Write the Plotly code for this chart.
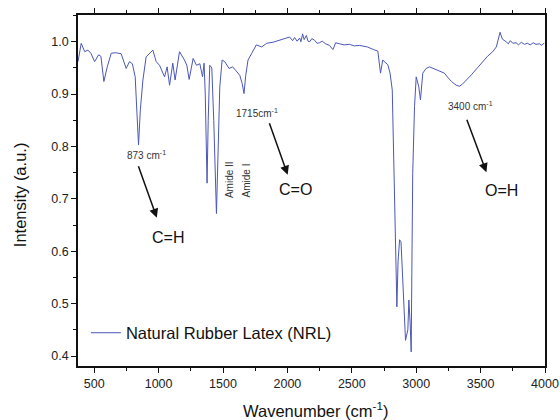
import plotly.graph_objects as go

wavenumber = [374, 399, 426, 451, 474, 503, 534, 552, 575, 601, 632, 668, 709, 748, 774, 796, 818, 835, 844, 858,
              878, 903, 930, 955, 981, 1007, 1046, 1066, 1085, 1110, 1128, 1162, 1201, 1219, 1237, 1268, 1294, 1320,
              1341, 1353, 1362, 1376, 1385, 1397, 1413, 1428, 1449, 1463, 1475, 1493, 1513, 1547, 1575, 1599, 1630,
              1649, 1663, 1676, 1694, 1723, 1759, 1800, 1839, 1888, 1940, 1979, 2017, 2040, 2056, 2075, 2095, 2105,
              2118, 2130, 2147, 2160, 2173, 2190, 2211, 2230, 2249, 2270, 2297, 2327, 2353, 2362, 2374, 2405, 2440,
              2482, 2520, 2559, 2590, 2621, 2669, 2702, 2723, 2740, 2780, 2797, 2814, 2824, 2832, 2840, 2850, 2859,
              2871, 2882, 2896, 2910, 2917, 2935, 2943, 2953, 2961, 2966, 2973, 2987, 3000, 3020, 3033, 3051, 3077,
              3103, 3142, 3181, 3219, 3245, 3274, 3310, 3336, 3359, 3388, 3429, 3475, 3516, 3553, 3594, 3622, 3651,
              3669, 3698, 3715, 3731, 3750, 3775, 3795, 3816, 3840, 3863, 3885, 3909, 3930, 3956, 3975, 3995]
intensity = [0.962, 0.997, 0.981, 0.984, 0.978, 0.962, 0.975, 0.972, 0.924, 0.952, 0.978, 0.979, 0.977, 0.949, 0.962,
             0.958, 0.933, 0.86, 0.803, 0.87, 0.927, 0.971, 0.978, 0.984, 0.962, 0.955, 0.933, 0.952, 0.917, 0.959,
             0.927, 0.981, 0.965, 0.955, 0.928, 0.968, 0.955, 0.958, 0.933, 0.959, 0.9, 0.73, 0.85, 0.955, 0.95,
             0.85, 0.672, 0.8, 0.914, 0.965, 0.962, 0.949, 0.952, 0.945, 0.936, 0.92, 0.901, 0.935, 0.965, 0.978,
             0.994, 0.99, 0.997, 0.999, 1.003, 1.006, 1.009, 1.002, 1.008, 1.001, 1.007, 1.0, 1.015, 1.004, 1.012,
             1.001, 1.0, 1.006, 1.003, 0.997, 0.998, 1.001, 0.996, 0.993, 0.985, 0.99, 0.998, 0.996, 0.994, 0.995,
             0.992, 0.993, 0.991, 0.99, 0.985, 0.982, 0.94, 0.965, 0.956, 0.94, 0.908, 0.78, 0.66, 0.558, 0.494,
             0.58, 0.622, 0.618, 0.545, 0.463, 0.43, 0.45, 0.507, 0.463, 0.408, 0.558, 0.749, 0.876, 0.933, 0.914,
             0.889, 0.94, 0.949, 0.952, 0.948, 0.945, 0.94, 0.932, 0.924, 0.917, 0.915, 0.919, 0.926, 0.937, 0.95,
             0.962, 0.972, 0.981, 0.99, 1.018, 1.005, 1.0, 0.996, 1.002, 0.997, 0.998, 0.994, 0.999, 0.995, 0.997,
             0.994, 0.998, 0.995, 0.996, 0.993, 0.998]

series_name = "Natural Rubber Latex (NRL)"
x_ticks = [500, 1000, 1500, 2000, 2500, 3000, 3500, 4000]
y_ticks = [0.4, 0.5, 0.6, 0.7, 0.8, 0.9, 1.0]
x_title = "Wavenumber (cm<sup>-1</sup>)"
y_title = "Intensity (a.u.)"

FONT = "Arial, Liberation Sans, sans-serif"
LINE = "#4b57b8"

fig = go.Figure()
fig.add_trace(go.Scatter(x=wavenumber, y=intensity, mode="lines", name=series_name,
                         line=dict(color=LINE, width=1), showlegend=True))

axis_common = dict(showgrid=False, zeroline=False, showline=True, linecolor="#111", linewidth=1.5,
                   ticks="outside", ticklen=5, tickwidth=1, tickcolor="#111", automargin=False,
                   ticklabeloverflow="allow",
                   tickfont=dict(family=FONT, size=12.5, color="#222"))

fig.update_xaxes(range=[374, 4000], tickvals=x_ticks, mirror="ticks",
                 minor=dict(ticks="outside", ticklen=3, tickcolor="#111", dtick=250, tick0=0),
                 **axis_common)
fig.update_yaxes(range=[0.381, 1.051], tickvals=y_ticks, ticktext=[f"{v:.1f}" for v in y_ticks], mirror=True,
                 minor=dict(ticks="outside", ticklen=3, tickcolor="#111", dtick=0.05, tick0=0),
                 **axis_common)

ann_font_small = dict(family=FONT, size=10, color="#333")
ann_font_big = dict(family=FONT, size=16, color="#111")

anns = []
# axis titles
anns.append(dict(xref="paper", yref="paper", x=0.5075, y=-0.125, text=x_title, showarrow=False,
                 xanchor="center", yanchor="middle", font=dict(family=FONT, size=16.5, color="#111")))
anns.append(dict(xref="paper", yref="paper", x=-0.124, y=0.487, text=y_title, showarrow=False, textangle=-90,
                 xanchor="center", yanchor="middle", font=dict(family=FONT, size=16.5, color="#111")))
# band labels
anns.append(dict(x=740, y=0.784, text="873 cm<sup>-1</sup>", showarrow=False, xanchor="left", font=ann_font_small))
anns.append(dict(x=1583, y=0.864, text="1715cm<sup>-1</sup>", showarrow=False, xanchor="left", font=ann_font_small))
anns.append(dict(x=3234, y=0.877, text="3400 cm<sup>-1</sup>", showarrow=False, xanchor="left", font=ann_font_small))
# arrows
for (hx, hy, tx, ty) in [(986, 0.664, 839, 0.765), (2002, 0.746, 1856, 0.847), (3545, 0.751, 3389, 0.854)]:
    anns.append(dict(x=hx, y=hy, ax=tx, ay=ty, axref="x", ayref="y", xref="x", yref="y", text="",
                     showarrow=True, arrowhead=2, arrowsize=1.2, arrowwidth=1.5, arrowcolor="#111"))
# group labels
anns.append(dict(x=1072, y=0.627, text="C=H", showarrow=False, font=ann_font_big))
anns.append(dict(x=2063, y=0.717, text="C=O", showarrow=False, font=ann_font_big))
anns.append(dict(x=3662, y=0.716, text="O=H", showarrow=False, font=ann_font_big))
anns.append(dict(x=1547, y=0.736, text="Amide II", textangle=-90, showarrow=False, font=ann_font_small))
anns.append(dict(x=1682, y=0.736, text="Amide I", textangle=-90, showarrow=False, font=ann_font_small))

fig.update_layout(
    width=560, height=420,
    margin=dict(l=78, r=15, t=15, b=54),
    paper_bgcolor="white", plot_bgcolor="white",
    font=dict(family=FONT, color="#111"),
    annotations=anns,
    legend=dict(x=0.017, y=0.094, xanchor="left", yanchor="middle", bgcolor="rgba(0,0,0,0)",
                font=dict(family=FONT, size=16.5, color="#111")),
)

# remove the default 8px page margin so the 560x420 figure fills the window exactly
fig.write_html("out.html", config={"displayModeBar": False},
               post_script="document.body.style.margin='0px'; document.body.style.overflow='hidden';")
